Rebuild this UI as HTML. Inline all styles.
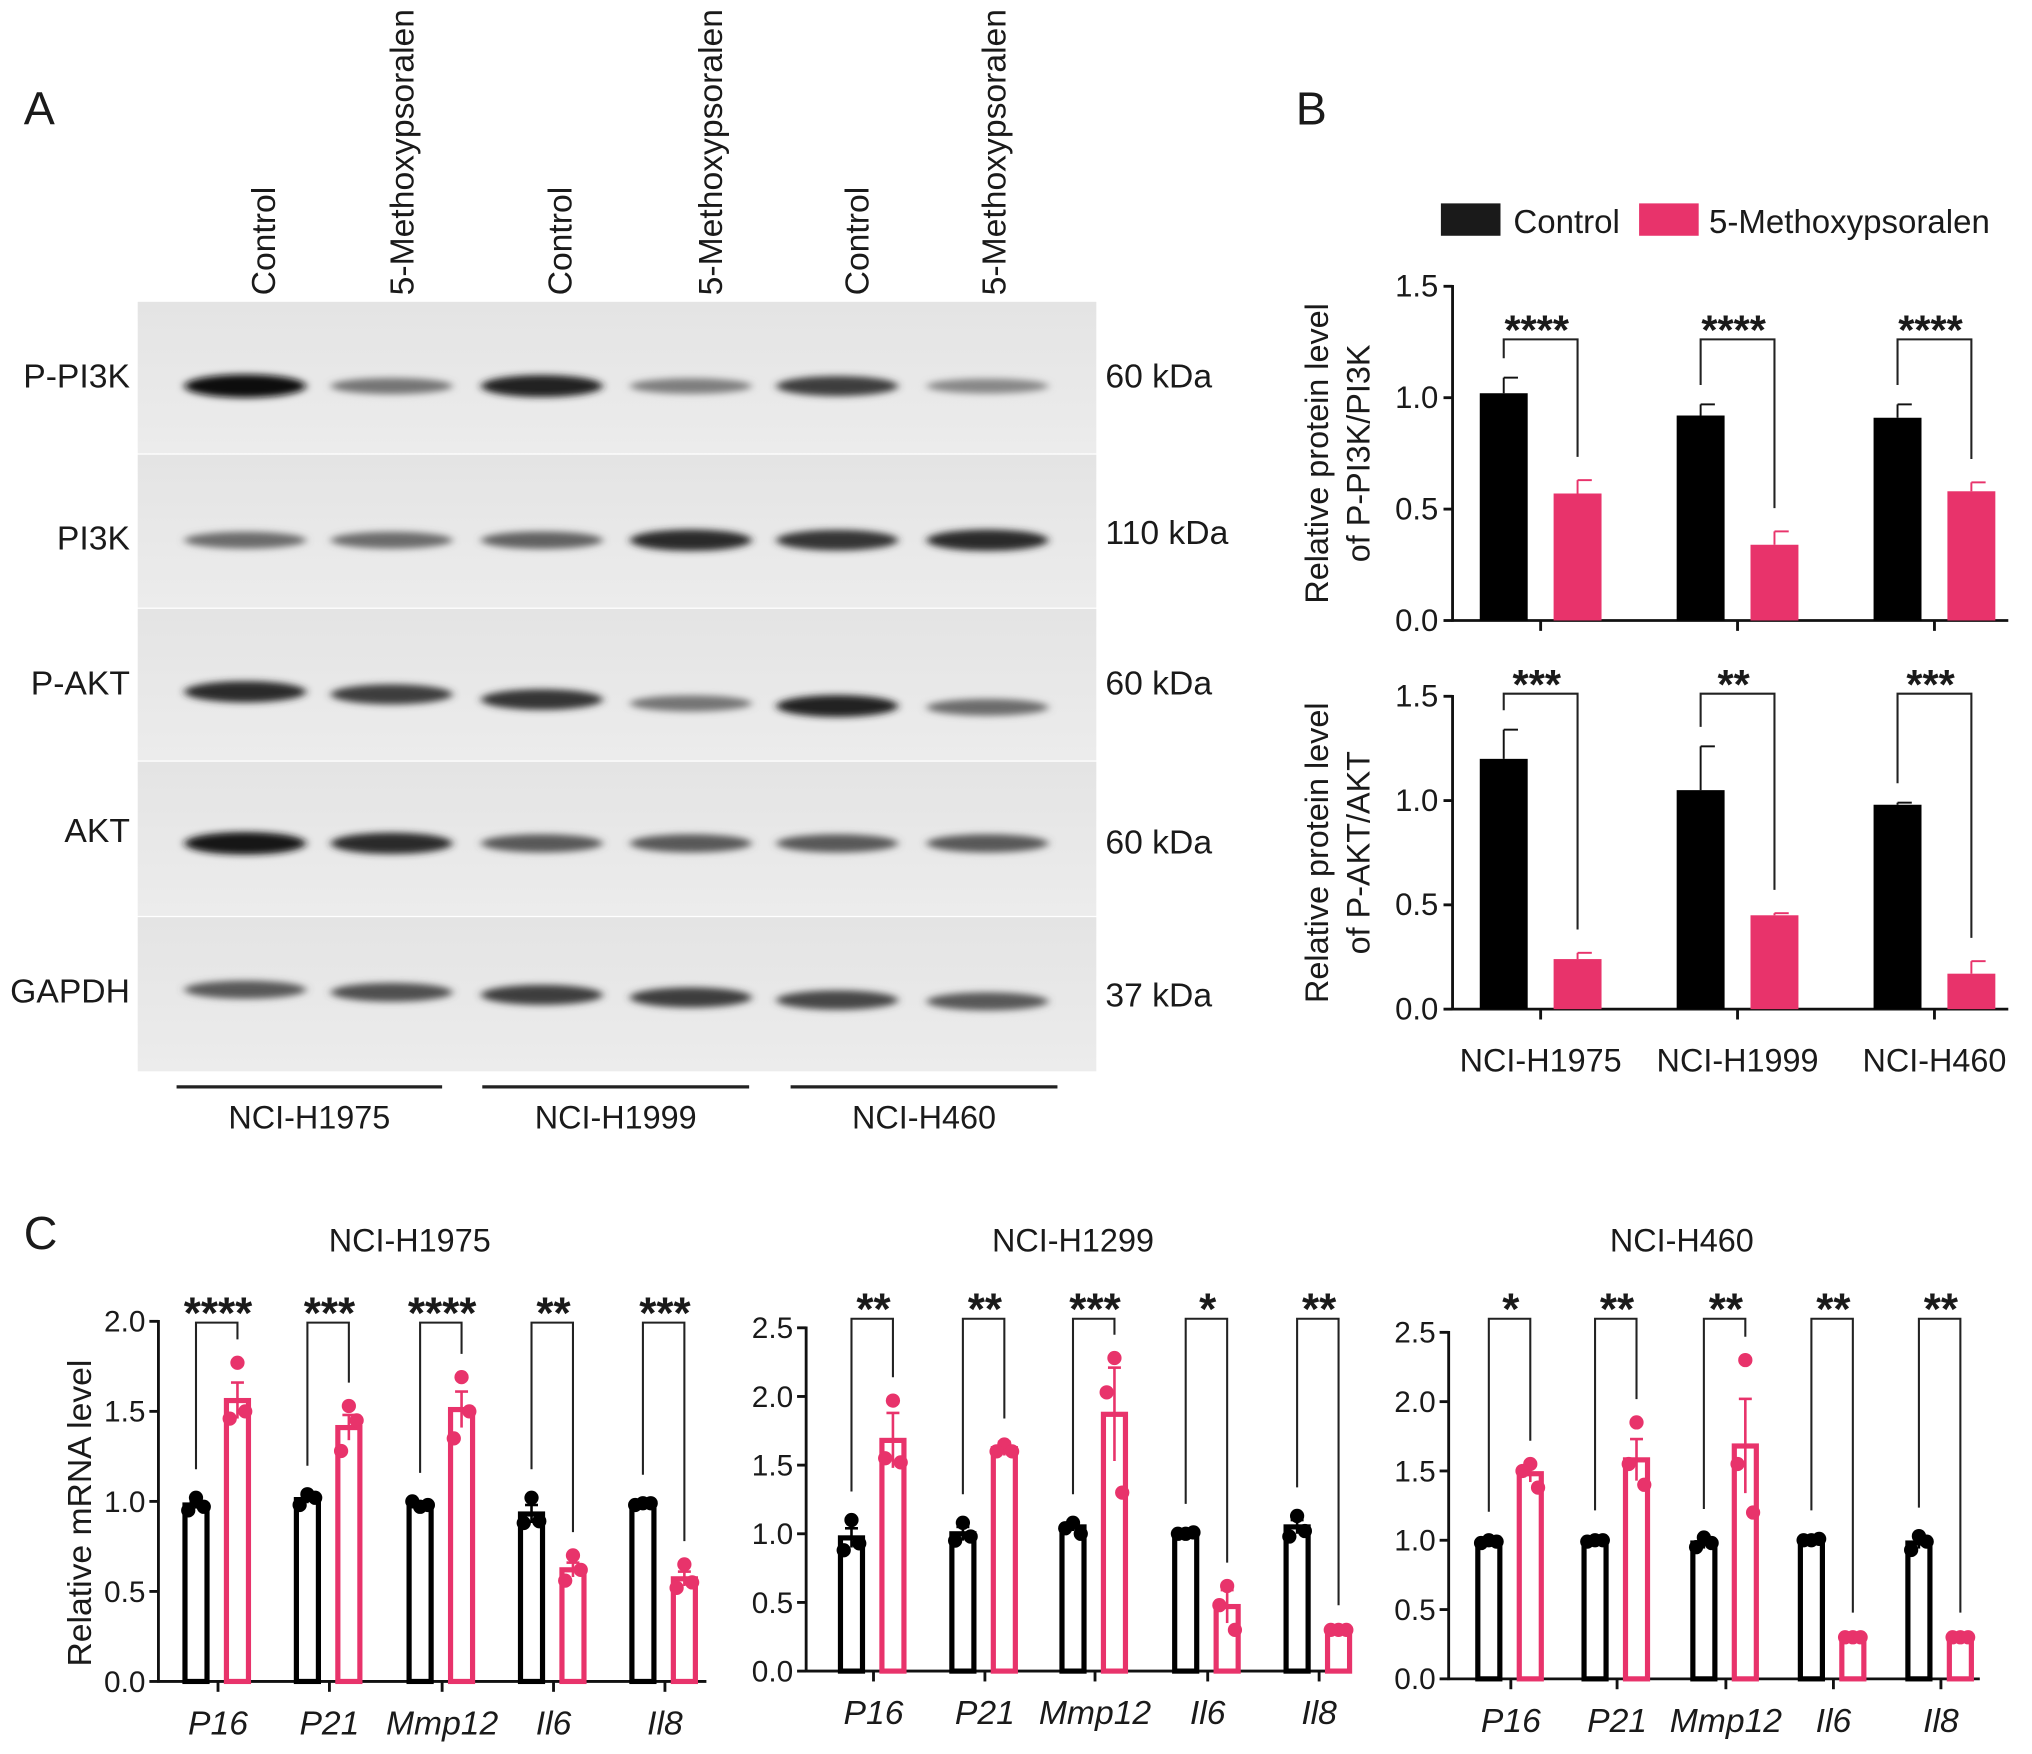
<!DOCTYPE html>
<html><head><meta charset="utf-8">
<style>
html,body{margin:0;padding:0;background:#fff;}
svg{display:block;}
text{font-family:"Liberation Sans",Arial,sans-serif;fill:#1a1a1a;}
</style></head>
<body>
<svg id="fig" width="2032" height="1754" viewBox="0 0 1568 1354" xmlns="http://www.w3.org/2000/svg">
<defs>
<filter id="blur" x="-30%" y="-100%" width="160%" height="300%"><feGaussianBlur stdDeviation="3.2 2.6"/></filter>
<linearGradient id="bg" x1="0" y1="0" x2="0" y2="1"><stop offset="0" stop-color="#e4e4e4"/><stop offset="1" stop-color="#ececec"/></linearGradient>
</defs>
<text x="18" y="96" font-size="36">A</text>
<text x="1000" y="96" font-size="36">B</text>
<text x="18" y="964" font-size="36">C</text>
<g id="blot"></g>
<g id="pb"></g>
<g id="pc"></g>
</svg>
<script>
// ---------- Panel A data ----------
const laneLabels = ["Control","5-Methoxypsoralen","Control","5-Methoxypsoralen","Control","5-Methoxypsoralen"];
const rowLabels = ["P-PI3K","PI3K","P-AKT","AKT","GAPDH"];
const kdaLabels = ["60 kDa","110 kDa","60 kDa","60 kDa","37 kDa"];
const bandIntensity = [
  [1.0,0.45,0.9,0.4,0.75,0.35],
  [0.5,0.5,0.55,0.85,0.8,0.85],
  [0.85,0.75,0.8,0.45,0.9,0.5],
  [0.95,0.85,0.6,0.6,0.6,0.6],
  [0.6,0.65,0.75,0.75,0.7,0.6]
];
const cellLines = ["NCI-H1975","NCI-H1999","NCI-H460"];

// ---------- Panel B data ----------
const bGroups = ["NCI-H1975","NCI-H1999","NCI-H460"];
const pi3kCtrl = [1.02,0.92,0.91];
const pi3kCtrlErr = [0.07,0.05,0.06];
const pi3kTreat = [0.57,0.34,0.58];
const pi3kTreatErr = [0.06,0.06,0.04];
const pi3kStars = ["****","****","****"];
const aktCtrl = [1.20,1.05,0.98];
const aktCtrlErr = [0.14,0.21,0.01];
const aktTreat = [0.24,0.45,0.17];
const aktTreatErr = [0.03,0.01,0.06];
const aktStars = ["***","**","***"];
const bTicks = ["0.0","0.5","1.0","1.5"];

// ---------- Panel C data ----------
const genes = ["P16","P21","Mmp12","Il6","Il8"];
const cTitles = ["NCI-H1975","NCI-H1299","NCI-H460"];
const c1Ctrl = [0.98,1.01,0.98,0.93,0.98];
const c1CtrlErr = [0.02,0.02,0.01,0.05,0.01];
const c1Treat = [1.56,1.41,1.51,0.62,0.57];
const c1TreatErr = [0.10,0.07,0.10,0.04,0.04];
const c1CtrlPts = [[1.02,0.95,0.97],[1.04,0.98,1.02],[0.97,1.0,0.98],[1.02,0.88,0.89],[0.99,0.98,0.99]];
const c1TreatPts = [[1.77,1.46,1.50],[1.53,1.28,1.45],[1.69,1.35,1.50],[0.70,0.56,0.62],[0.65,0.52,0.55]];
const c1Stars = ["****","***","****","**","***"];
const c2Ctrl = [0.97,1.00,1.05,1.00,1.05];
const c2CtrlErr = [0.07,0.05,0.03,0.01,0.05];
const c2Treat = [1.68,1.62,1.87,0.47,0.30];
const c2TreatErr = [0.20,0.05,0.34,0.12,0.01];
const c2CtrlPts = [[1.10,0.88,0.93],[1.08,0.95,0.98],[1.08,1.04,1.00],[1.00,1.00,1.01],[1.13,0.98,1.02]];
const c2TreatPts = [[1.97,1.55,1.52],[1.65,1.60,1.60],[2.28,2.03,1.30],[0.62,0.48,0.30],[0.30,0.30,0.30]];
const c2Stars = ["**","**","***","*","**"];
const c3Ctrl = [0.99,1.00,0.98,1.00,0.98];
const c3CtrlErr = [0.01,0.01,0.04,0.01,0.04];
const c3Treat = [1.48,1.58,1.68,0.30,0.30];
const c3TreatErr = [0.06,0.15,0.34,0.01,0.01];
const c3CtrlPts = [[1.0,0.98,0.99],[1.0,0.99,1.0],[1.02,0.95,0.98],[1.0,1.0,1.01],[1.03,0.93,0.99]];
const c3TreatPts = [[1.55,1.50,1.38],[1.85,1.55,1.40],[2.30,1.55,1.20],[0.30,0.30,0.30],[0.30,0.30,0.30]];
const c3Stars = ["*","**","**","**","**"];
const c1Ticks = ["0.0","0.5","1.0","1.5","2.0"];
const c23Ticks = ["0.0","0.5","1.0","1.5","2.0","2.5"];

const NS="http://www.w3.org/2000/svg";
const PINK="#e8336b";
function el(parent, tag, attrs){const e=document.createElementNS(NS,tag);for(const k in attrs)e.setAttribute(k,attrs[k]);parent.appendChild(e);return e;}
function txt(parent, x,y,s,size,extra){const t=el(parent,'text',Object.assign({x:x,y:y,'font-size':size},extra||{}));t.textContent=s;return t;}

// ---------- Panel A ----------
const blot=document.getElementById('blot');
const laneX=[189,302,418,533,646,762];
const rowTop=[233,351,470,588,708];
const rowBot=[350,469,587,707,827];
const bandY=[298,417,[534,536,540,543,545,546],651,[764,766,768,770,772,773]];
for(let r=0;r<5;r++){
  const rr=el(blot,'rect',{x:106,y:rowTop[r],width:740,height:rowBot[r]-rowTop[r],fill:'url(#bg)'});
  
  
  for(let l=0;l<6;l++){
    const v=bandIntensity[r][l];
    const y=Array.isArray(bandY[r])?bandY[r][l]:bandY[r];
    const g=Math.round(200-185*v);
    const b=el(blot,'ellipse',{cx:laneX[l],cy:y,rx:47,ry:4+5*v,fill:`rgb(${g},${g},${g})`,filter:'url(#blur)'});
    
    
  }
  const rl=txt(blot,100,[299,424,536,650,774][r],rowLabels[r],26,{'text-anchor':'end'});
  
  
  const kl=txt(blot,853,[299,420,536,659,777][r],kdaLabels[r],26);
  
  
}
const laneTextX=[212,319,441,557,670,776];
for(let l=0;l<6;l++){
  const t=txt(blot,0,0,laneLabels[l],26,{transform:`translate(${laneTextX[l]},228) rotate(-90)`});
  
  
}
const lineX=[[136,341],[372,578],[610,816]];
for(let i=0;i<3;i++){
  const ln=el(blot,'line',{x1:lineX[i][0],x2:lineX[i][1],y1:839,y2:839,stroke:'#222','stroke-width':2.5});
  
  
  const t=txt(blot,(lineX[i][0]+lineX[i][1])/2,871,cellLines[i],25,{'text-anchor':'middle'});
  
  
}

// ---------- Panel B ----------
const pb=document.getElementById('pb');
const lg1=el(pb,'rect',{x:1112,y:157,width:46,height:25,fill:'#1a1a1a'});


const lt1=txt(pb,1168,180,'Control',25.5);


const lg2=el(pb,'rect',{x:1265,y:157,width:46,height:25,fill:PINK});


const lt2=txt(pb,1319,180,'5-Methoxypsoralen',25.5);



function panelB(y0,ypx,ctrl,ctrlE,tr,trE,stars,lab1,lab2,labY,showX,name){
  const g=el(pb,'g',{});
  
  
  const ax=1121, xEnd=1550;
  const Y=v=>y0-v*ypx;
  const gx=i=>1189+i*152;
  el(g,'line',{x1:ax,x2:ax,y1:Y(1.5)-1,y2:y0+1,stroke:'#111','stroke-width':2.2});
  el(g,'line',{x1:ax,x2:xEnd,y1:y0,y2:y0,stroke:'#111','stroke-width':2.2});
  bTicks.forEach((s,i)=>{const v=parseFloat(s);
    el(g,'line',{x1:ax-7,x2:ax,y1:Y(v),y2:Y(v),stroke:'#111','stroke-width':2.2});
    const t=txt(g,ax-11,Y(v)+8,s,24,{'text-anchor':'end'});
    
    
  });
  for(let i=0;i<3;i++){
    const cx=gx(i);
    el(g,'line',{x1:cx,x2:cx,y1:y0,y2:y0+8,stroke:'#111','stroke-width':2.2});
    const bx=cx-47, px=cx+10, w=37;
    el(g,'line',{x1:bx+w/2,x2:bx+w/2,y1:Y(ctrl[i]),y2:Y(ctrl[i]+ctrlE[i]),stroke:'#111','stroke-width':1.5});
    el(g,'line',{x1:bx+w/2,x2:bx+w/2+11,y1:Y(ctrl[i]+ctrlE[i]),y2:Y(ctrl[i]+ctrlE[i]),stroke:'#111','stroke-width':1.5});
    const r1=el(g,'rect',{x:bx,y:Y(ctrl[i]),width:w,height:ctrl[i]*ypx,fill:'#000'});
    
    
    el(g,'line',{x1:px+w/2,x2:px+w/2,y1:Y(tr[i]),y2:Y(tr[i]+trE[i]),stroke:PINK,'stroke-width':1.5});
    el(g,'line',{x1:px+w/2,x2:px+w/2+11,y1:Y(tr[i]+trE[i]),y2:Y(tr[i]+trE[i]),stroke:PINK,'stroke-width':1.5});
    const r2=el(g,'rect',{x:px,y:Y(tr[i]),width:w,height:tr[i]*ypx,fill:PINK});
    
    
    const top=Y(1.5)+(name==='pi3k-chart'?41:-2);
    const l1=Y(ctrl[i]+ctrlE[i])-15, l2=Y(tr[i]+trE[i])-18;
    el(g,'polyline',{points:`${bx+w/2},${l1} ${bx+w/2},${top} ${px+w/2},${top} ${px+w/2},${l2}`,fill:'none',stroke:'#222','stroke-width':1.6});
    const st=txt(g,cx-3,top+4,stars[i],32,{'text-anchor':'middle','font-weight':'bold'});
    
    
    if(showX){const xl=txt(g,cx,y0+48,bGroups[i],25,{'text-anchor':'middle'});
      
      }
  }
  const cy=y0-0.75*ypx;
  const a=txt(g,0,0,lab1,25,{'text-anchor':'middle',transform:`translate(1025,${cy}) rotate(-90)`});
  
  
  const b=txt(g,0,0,lab2,25,{'text-anchor':'middle',transform:`translate(1057,${cy}) rotate(-90)`});
  
  
}
panelB(479,172,pi3kCtrl,pi3kCtrlErr,pi3kTreat,pi3kTreatErr,pi3kStars,'Relative protein level','of P-PI3K/PI3K',0,false,'pi3k-chart');
panelB(779,161,aktCtrl,aktCtrlErr,aktTreat,aktTreatErr,aktStars,'Relative protein level','of P-AKT/AKT',0,true,'akt-chart');

// ---------- Panel C ----------
const pc=document.getElementById('pc');
function panelC(cfg){
  const g=el(pc,'g',{});
  
  
  const {ax,xEnd,y0,ypx,ticks,tickX,ctrl,ctrlE,tr,trE,cp,tp,stars,title,titleX,top}=cfg;
  const Y=v=>y0-v*ypx;
  const maxT=parseFloat(ticks[ticks.length-1]);
  const tt=txt(g,titleX,966,title,25,{'text-anchor':'middle'});
  
  
  el(g,'line',{x1:ax,x2:ax,y1:Y(maxT)-1,y2:y0+1,stroke:'#111','stroke-width':2.2});
  el(g,'line',{x1:ax,x2:xEnd,y1:y0,y2:y0,stroke:'#111','stroke-width':2.2});
  ticks.forEach(s=>{const v=parseFloat(s);
    el(g,'line',{x1:ax-7,x2:ax,y1:Y(v),y2:Y(v),stroke:'#111','stroke-width':2.2});
    const t=txt(g,ax-10,Y(v)+8,s,23,{'text-anchor':'end'});
    
    
  });
  for(let i=0;i<genes.length;i++){
    const cx=tickX[i];
    el(g,'line',{x1:cx,x2:cx,y1:y0,y2:y0+8,stroke:'#111','stroke-width':2.2});
    const bc=cx-17, pcx=cx+15, w=17;
    const r1=el(g,'rect',{x:bc-w/2,y:Y(ctrl[i]),width:w,height:ctrl[i]*ypx,fill:'none',stroke:'#000','stroke-width':4});
    
    
    el(g,'line',{x1:bc,x2:bc,y1:Y(ctrl[i]-ctrlE[i]),y2:Y(ctrl[i]+ctrlE[i]),stroke:'#000','stroke-width':2});
    el(g,'line',{x1:bc-5,x2:bc+5,y1:Y(ctrl[i]+ctrlE[i]),y2:Y(ctrl[i]+ctrlE[i]),stroke:'#000','stroke-width':2});
    const r2=el(g,'rect',{x:pcx-w/2,y:Y(tr[i]),width:w,height:tr[i]*ypx,fill:'none',stroke:PINK,'stroke-width':4});
    
    
    el(g,'line',{x1:pcx,x2:pcx,y1:Y(tr[i]-trE[i]),y2:Y(tr[i]+trE[i]),stroke:PINK,'stroke-width':2});
    el(g,'line',{x1:pcx-5,x2:pcx+5,y1:Y(tr[i]+trE[i]),y2:Y(tr[i]+trE[i]),stroke:PINK,'stroke-width':2});
    const off=[0,-6,6];
    cp[i].forEach((v,k)=>{const d=el(g,'circle',{cx:bc+off[k],cy:Y(v),r:5.5,fill:'#000'});
      
      });
    tp[i].forEach((v,k)=>{const d=el(g,'circle',{cx:pcx+off[k],cy:Y(v),r:5.5,fill:PINK});
      
      });
    const l1=Math.min(Y(ctrl[i]+ctrlE[i]),...cp[i].map(Y))-22;
    const l2=Math.min(Y(tr[i]+trE[i]),...tp[i].map(Y))-18;
    el(g,'polyline',{points:`${bc},${l1} ${bc},${top} ${pcx},${top} ${pcx},${l2}`,fill:'none',stroke:'#222','stroke-width':1.6});
    const st=txt(g,cx,top+4,stars[i],34,{'text-anchor':'middle','font-weight':'bold'});
    
    
    const xl=txt(g,cx,y0+41,genes[i],26,{'text-anchor':'middle','font-style':'italic'});
    
    
  }
}
panelC({name:'mrna-chart-h1975',ax:122,xEnd:545,y0:1298,ypx:139,ticks:c1Ticks,tickX:[168,254,341,427,513],ctrl:c1Ctrl,ctrlE:c1CtrlErr,tr:c1Treat,trE:c1TreatErr,cp:c1CtrlPts,tp:c1TreatPts,stars:c1Stars,title:cTitles[0],titleX:316,top:1021});
panelC({name:'mrna-chart-h1299',ax:622,xEnd:1032,y0:1290,ypx:106,ticks:c23Ticks,tickX:[674,760,845,932,1018],ctrl:c2Ctrl,ctrlE:c2CtrlErr,tr:c2Treat,trE:c2TreatErr,cp:c2CtrlPts,tp:c2TreatPts,stars:c2Stars,title:cTitles[1],titleX:828,top:1018});
panelC({name:'mrna-chart-h460',ax:1118,xEnd:1528,y0:1296,ypx:107,ticks:c23Ticks,tickX:[1166,1248,1332,1415,1498],ctrl:c3Ctrl,ctrlE:c3CtrlErr,tr:c3Treat,trE:c3TreatErr,cp:c3CtrlPts,tp:c3TreatPts,stars:c3Stars,title:cTitles[2],titleX:1298,top:1018});
const yt=txt(pc,0,0,'Relative mRNA level',26,{'text-anchor':'middle',transform:'translate(70,1168) rotate(-90)'});


</script>
</body></html>
